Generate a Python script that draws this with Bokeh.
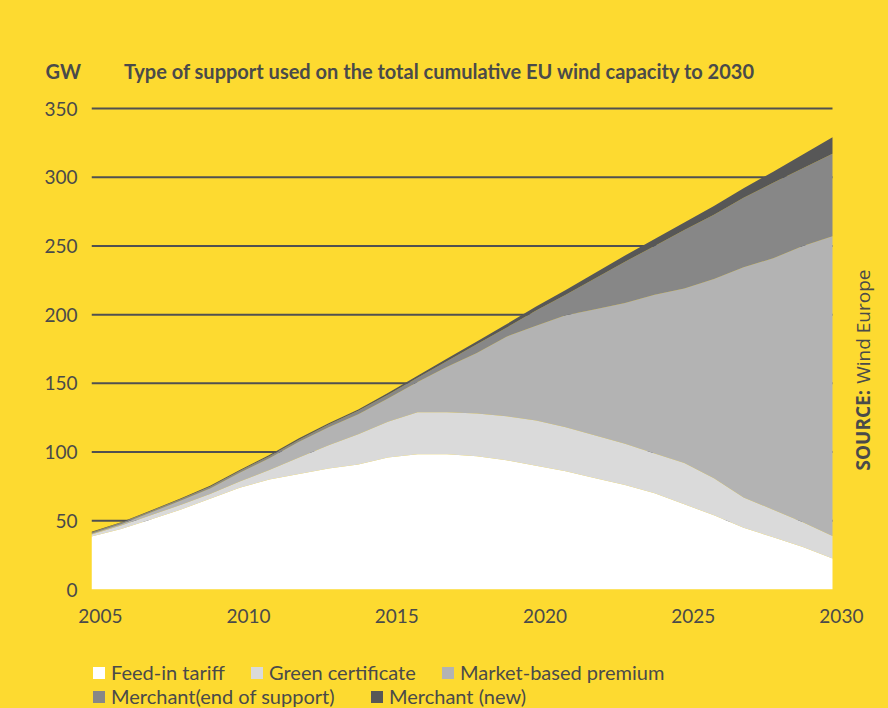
from bokeh.plotting import figure
from bokeh.layouts import column
from bokeh.models import (Range1d, FixedTicker, CustomJSTickFormatter, Legend, LegendItem, Label, ColumnDataSource)
from bokeh.embed import file_html
from bokeh.resources import INLINE

# ---- data (GW, per support type, stacked) ----
years = list(range(2005, 2031))
feed_in_tariff = [38.5, 44, 51, 58, 66, 74, 80, 84, 88, 91, 96, 98.5, 98.5, 97, 94, 90, 86, 81, 76, 70, 62, 54, 45, 38, 31, 22.5]
green_certificate = [1.5, 2.5, 3, 3.5, 3.5, 4.5, 7, 12, 17, 22, 26, 30.5, 30.5, 31, 32, 33, 32, 31, 30, 29, 30, 27, 22, 20, 18, 16.5]
market_premium = [0.5, 1, 2, 3, 4, 6.5, 8.5, 11.5, 13, 14.5, 17, 22, 33, 44, 58, 69, 81.5, 92, 102.5, 115.5, 127, 145, 167.5, 183, 201, 218]
merchant_end = [1, 1, 1, 1.2, 1.3, 1.3, 1.5, 1.5, 2, 2.5, 2.8, 3, 4.2, 6.5, 6.5, 11, 15, 22.5, 30, 35.5, 42.5, 46.7, 50.5, 55, 56.5, 60]
merchant_new = [0.5, 0.5, 0.5, 0.5, 0.7, 0.7, 0.8, 1, 1, 1, 1.2, 1.5, 1.8, 2, 2.5, 3, 3.5, 4, 4.5, 5, 5.5, 6.3, 7, 8, 10, 12]

series_names = ["Feed-in tariff", "Green certificate", "Market-based premium",
                "Merchant(end of support)", "Merchant (new)"]
y_ticks = [0, 50, 100, 150, 200, 250, 300, 350]
x_ticks = [2005, 2010, 2015, 2020, 2025, 2030]
title_text = "Type of support used on the total cumulative EU wind capacity to 2030"
unit_text = "GW"
source_bold = "SOURCE:"
source_text = "Wind Europe"

YELLOW = "#FDDA30"
TEXT = "#4A4A4A"
GRID = "#505050"
colors = ["#FFFFFF", "#DADADA", "#B3B3B3", "#878787", "#575757"]
FONT = "Lato"

source = ColumnDataSource(dict(
    year=years, fit=feed_in_tariff, gc=green_certificate, mp=market_premium,
    me=merchant_end, mn=merchant_new))
keys = ["fit", "gc", "mp", "me", "mn"]

# frame: x 91..888 px, y 90..589 px ; 2005->2030 spans 741 px, 0->350 spans 481 px
PX_PER_YEAR = 741 / 25
PX_PER_GW = 481 / 350
x_end = 2005 + 797 / PX_PER_YEAR
y_end = 499 / PX_PER_GW

p = figure(width=888, height=650, output_backend="svg", toolbar_location=None,
           x_range=Range1d(2005, x_end), y_range=Range1d(0, y_end),
           min_border_left=91, min_border_right=0, min_border_top=90, min_border_bottom=61)
p.background_fill_color = YELLOW
p.border_fill_color = YELLOW
p.outline_line_color = None
p.grid.visible = False

# horizontal reference lines (under the areas)
grid_y = [t for t in y_ticks if t > 0]
p.segment(x0=[years[0]] * len(grid_y), x1=[years[-1]] * len(grid_y), y0=grid_y, y1=grid_y,
          line_color=GRID, line_width=2)

renderers = p.varea_stack(stackers=keys, x="year", color=colors, source=source)

# axes
for ax in (p.xaxis[0], p.yaxis[0]):
    ax.axis_line_color = None
    ax.major_tick_line_color = None
    ax.minor_tick_line_color = None
    ax.major_tick_out = 0
    ax.major_tick_in = 0
    ax.major_label_text_font = FONT
    ax.major_label_text_font_size = "19px"
    ax.major_label_text_color = TEXT
p.yaxis.ticker = FixedTicker(ticks=y_ticks)
p.yaxis.major_label_standoff = 14
p.xaxis.ticker = FixedTicker(ticks=[t + 0.3 for t in x_ticks])
p.xaxis.formatter = CustomJSTickFormatter(code="return String(Math.round(tick - 0.3));")
p.xaxis.major_label_standoff = 19

# title line (unit + title)
p.title.text = unit_text + "\u00a0" * 9 + title_text
p.title.text_font = FONT
p.title.text_font_style = "bold"
p.title.text_font_size = "20px"
p.title.text_color = TEXT
p.title.align = "left"
p.title.offset = -46
p.title.standoff = 15

# source note (rotated, inside the frame on the right)
p.add_layout(Label(x=771, y=119, x_units="screen", y_units="screen", text=source_bold,
                   angle=90, angle_units="deg", text_font="Open Sans", text_font_style="bold",
                   text_font_size="19px", text_color=TEXT, text_baseline="middle", text_align="left"))
p.add_layout(Label(x=771, y=320, x_units="screen", y_units="screen", text=source_text,
                   angle=90, angle_units="deg", text_font="Open Sans",
                   text_font_size="19px", text_color=TEXT, text_baseline="middle", text_align="right"))

# ---- legend strip below the chart (its frame is aligned with the chart frame) ----
lg_fig = figure(width=888, height=58, output_backend="svg", toolbar_location=None,
                x_range=Range1d(0, 1), y_range=Range1d(0, 1), x_axis_type=None, y_axis_type=None,
                min_border=0, min_border_left=0, min_border_right=0, min_border_top=0, min_border_bottom=0)
lg_fig.background_fill_color = YELLOW
lg_fig.border_fill_color = YELLOW
lg_fig.outline_line_color = None
lg_fig.grid.visible = False
# same stacked areas (they fall outside this strip's ranges) only serve as legend keys
key_renderers = lg_fig.varea_stack(stackers=keys, x="year", color=colors, source=source)

positions = [(0, 24), (158, 24), (349, 24), (0, 0), (278, 0)]
for r, name, loc in zip(key_renderers, series_names, positions):
    lg = Legend(items=[LegendItem(label=name, renderers=[r])], location=loc,
                orientation="horizontal", padding=0, margin=0,
                border_line_color=None, background_fill_alpha=0,
                glyph_width=15, glyph_height=15, label_standoff=5, label_height=20,
                label_text_font=FONT, label_text_font_size="20px", label_text_color=TEXT)
    lg_fig.add_layout(lg)

layout = column(p, lg_fig, spacing=0, styles={"background-color": YELLOW})
open("out.html", "w").write(file_html(layout, INLINE))
